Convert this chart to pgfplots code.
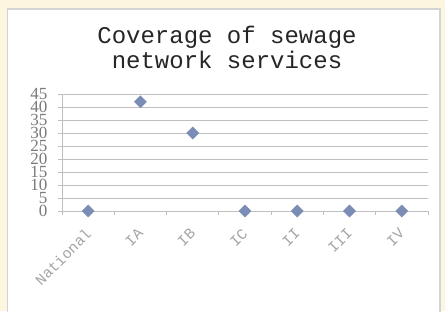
\documentclass[border=0pt]{standalone}
\usepackage{pgfplots}
\pgfplotsset{compat=1.18}
\usepackage{fontspec}
\newfontfamily\mono{Liberation Mono}
\newfontfamily\serifn{Liberation Serif}
\definecolor{cream}{HTML}{FDF5E0}
\definecolor{panelborder}{HTML}{D4D4D4}
\definecolor{gridc}{HTML}{BFBFBF}
\definecolor{markc}{HTML}{7B8DB5}
\definecolor{ylab}{HTML}{7A7A7A}
\definecolor{xlab}{HTML}{A5A5A5}
\begin{document}
\begin{tikzpicture}[x=1pt,y=1pt]
\useasboundingbox (0,0) rectangle (445,311);
\fill[cream] (0,0) rectangle (445,311);
\filldraw[fill=white,draw=panelborder,line width=1.5pt] (7.5,-5) rectangle (440,302);
\begin{axis}[
  at={(62pt,100pt)}, anchor=south west,
  scale only axis, width=366pt, height=117pt,
  xmin=-0.5, xmax=6.5, ymin=0, ymax=45,
  axis lines*=left,
  axis line style={gridc, line width=0.8pt},
  ytick={0,5,...,45},
  ymajorgrids, grid style={gridc, line width=0.8pt},
  major tick style={gridc, line width=0.8pt},
  major tick length=4pt,
  tick align=outside,
  xtick={-0.5,0.5,1.5,2.5,3.5,4.5,5.5,6.5},
  xticklabels={},
  extra x ticks={0,1,2,3,4,5,6},
  extra x tick labels={National,IA,IB,IC,II,III,IV},
  extra x tick style={grid=none, major tick length=0pt,
    xticklabel style={font=\mono\fontsize{15}{15}\selectfont, text=xlab, rotate=45, anchor=north east, inner sep=1pt, xshift=-13pt, yshift=-8pt}},
  /pgf/number format/assume math mode=true,
  yticklabel style={font=\serifn\fontsize{17}{17}\selectfont, text=ylab, xshift=-7pt},
  clip=false,
]
\addplot[only marks, mark=square*, mark size=4.3pt, mark options={fill=markc, draw=markc, rotate=45}]
  coordinates {(0,0) (1,42) (2,30) (3,0) (4,0) (5,0) (6,0)};
\end{axis}
\node[font=\mono\fontsize{24}{25}\selectfont, align=center, text=black!85] at (227,264) {Coverage of sewage\\network services};
\end{tikzpicture}
\end{document}
